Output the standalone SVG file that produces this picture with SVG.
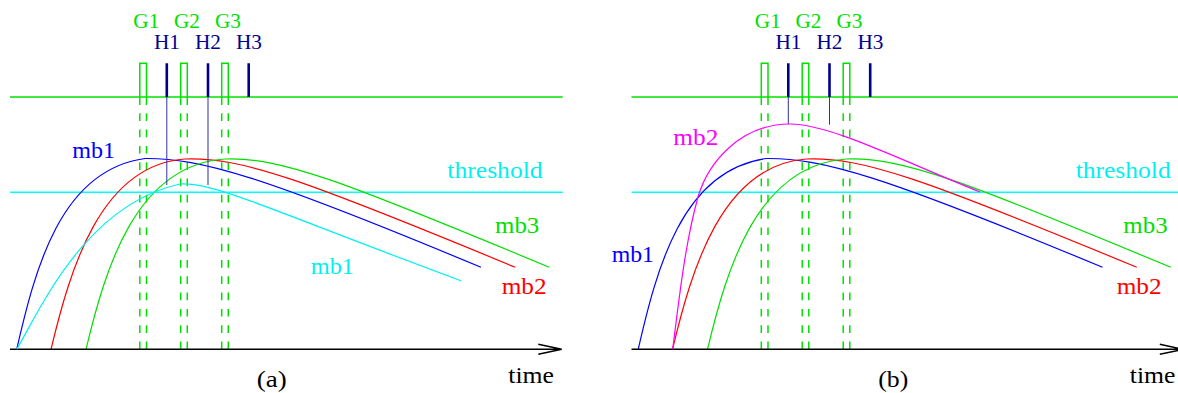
<svg xmlns="http://www.w3.org/2000/svg" width="1178" height="393" viewBox="0 0 1178 393">
<style>
text { font-family: "Liberation Serif", "Times New Roman", serif; font-size: 23.5px; }
.lab { font-size: 22px; }
.g { fill: #00e000; }
.h { fill: #000090; }
.c { fill: #00f0f0; }
.gs { stroke: #00e000; fill: none; stroke-width: 1.5; }
.dash { stroke: #00e000; fill: none; stroke-width: 1.5; stroke-dasharray: 7.7 8.6; }
.cur { fill: none; stroke-width: 1.2; }
.hbar { stroke: #000090; stroke-width: 2.6; }
.hthin { stroke: #3030a0; stroke-width: 1; }
.ax { stroke: #000; stroke-width: 1.5; fill: none; }
</style>
<defs>
  <g id="common">
    <path class="gs" d="M10,97 H562.7"/>
    <path d="M10,192.3 H562.7" stroke="#00ffff" stroke-width="1.5"/>
    <path class="gs" d="M139.8,105 V63.3 H146.5 V105 M180.7,105 V63.3 H187.3 V105 M221.7,105 V63.3 H228.3 V105"/>
    <path class="dash" d="M139.8,113.3 V349 M146.5,113.3 V349 M180.7,113.3 V349 M187.3,113.3 V349 M221.7,113.3 V349 M228.3,113.3 V349"/>
    <path class="hbar" d="M166.8,63.3 V97 M208,63.3 V97 M248.7,63.3 V97"/>
    <path class="cur" stroke="#0000ff" d="M16.7,349.3 C35,270 60,170 145,158.5 C200,158 260,175 481,267.3"/>
    <path class="cur" stroke="#ff0000" d="M51,349.3 C70,270 100,165 185,159 C240,157 300,178 515.3,267.3"/>
    <path class="cur" stroke="#00e000" d="M86,349.3 C105,270 135,165 225,159 C280,157 340,180 549.3,267.3"/>
    <path class="ax" d="M10,349.3 H561.7 M538.3,344.3 L561.7,349.3 L538.3,354.3"/>
  </g>
</defs>
<g id="panel-a">
  <use href="#common"/>
  <g id="connectors-a">
    <path class="hthin" d="M166.8,97 V185 M208,97 V185"/>
    <path class="cur" stroke="#00f0f0" d="M16.7,349.3 C40,310 85,205 180,184 C215,182 270,210 461,280.7"/>
  </g>
  <text class="lab g" x="133.3" y="28.3" textLength="26" lengthAdjust="spacingAndGlyphs">G1</text>
  <text class="lab g" x="174" y="28.3" textLength="26" lengthAdjust="spacingAndGlyphs">G2</text>
  <text class="lab g" x="215" y="28.3" textLength="26" lengthAdjust="spacingAndGlyphs">G3</text>
  <text class="lab h" x="154" y="49.3" textLength="26" lengthAdjust="spacingAndGlyphs">H1</text>
  <text class="lab h" x="195" y="49.3" textLength="26" lengthAdjust="spacingAndGlyphs">H2</text>
  <text class="lab h" x="236" y="49.3" textLength="26" lengthAdjust="spacingAndGlyphs">H3</text>
  <text x="72.3" y="158.3" fill="#0000ff" textLength="42.7" lengthAdjust="spacingAndGlyphs">mb1</text>
  <text class="c" x="447.3" y="178.3" textLength="95.4" lengthAdjust="spacingAndGlyphs">threshold</text>
  <text class="g" x="495" y="233.3" textLength="44.3" lengthAdjust="spacingAndGlyphs">mb3</text>
  <text class="c" x="310.7" y="274.3" textLength="43.3" lengthAdjust="spacingAndGlyphs">mb1</text>
  <text x="501.7" y="294.3" fill="#ff0000" textLength="45" lengthAdjust="spacingAndGlyphs">mb2</text>
  <text x="508.3" y="383.3" textLength="45.7" lengthAdjust="spacingAndGlyphs">time</text>
  <text x="256.7" y="387" textLength="30" lengthAdjust="spacingAndGlyphs">(a)</text>
</g>
<g id="panel-b">
  <use href="#common" transform="translate(621.5,0)"/>
  <g id="connectors-b">
    <path class="hthin" d="M788.3,97 V124 M829.5,97 V124.7"/>
    <path class="cur" stroke="#ff00ff" d="M672.7,349.3 C680,290 686,240 698,197 C708,163 740,124 790,124 C830,124 900,160 980,192"/>
  </g>
  <text class="lab g" x="754.8" y="28.3" textLength="26" lengthAdjust="spacingAndGlyphs">G1</text>
  <text class="lab g" x="795.5" y="28.3" textLength="26" lengthAdjust="spacingAndGlyphs">G2</text>
  <text class="lab g" x="836.5" y="28.3" textLength="26" lengthAdjust="spacingAndGlyphs">G3</text>
  <text class="lab h" x="775.5" y="49.3" textLength="26" lengthAdjust="spacingAndGlyphs">H1</text>
  <text class="lab h" x="816.5" y="49.3" textLength="26" lengthAdjust="spacingAndGlyphs">H2</text>
  <text class="lab h" x="857.5" y="49.3" textLength="26" lengthAdjust="spacingAndGlyphs">H3</text>
  <text x="673.3" y="145" fill="#ff00ff" textLength="45" lengthAdjust="spacingAndGlyphs">mb2</text>
  <text class="c" x="1075.7" y="178.3" textLength="95" lengthAdjust="spacingAndGlyphs">threshold</text>
  <text class="g" x="1123.3" y="233.3" textLength="44.3" lengthAdjust="spacingAndGlyphs">mb3</text>
  <text x="611.7" y="261.7" fill="#0000ff" textLength="42.3" lengthAdjust="spacingAndGlyphs">mb1</text>
  <text x="1116.7" y="294.3" fill="#ff0000" textLength="45" lengthAdjust="spacingAndGlyphs">mb2</text>
  <text x="1129.8" y="383.3" textLength="45.7" lengthAdjust="spacingAndGlyphs">time</text>
  <text x="878.3" y="387" textLength="30" lengthAdjust="spacingAndGlyphs">(b)</text>
</g>
</svg>
